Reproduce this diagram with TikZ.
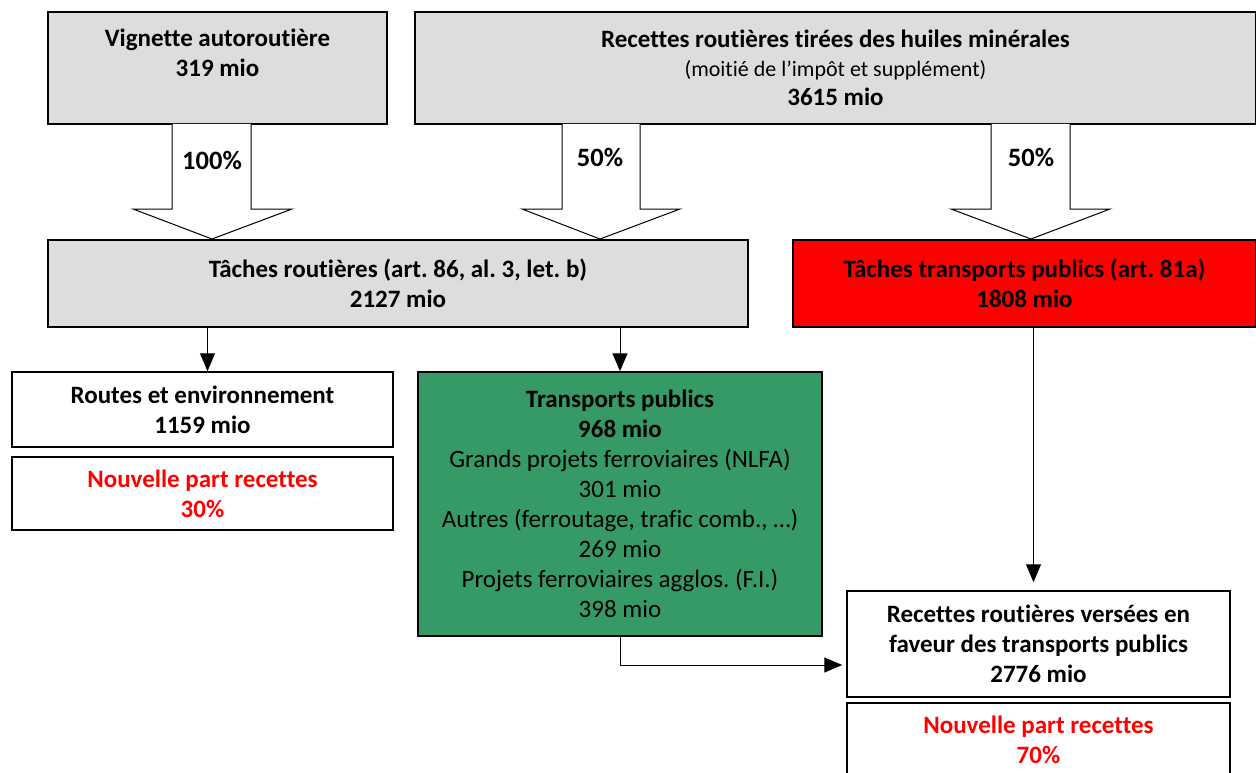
\documentclass[tikz,border=0pt]{standalone}
\usepackage{fontspec}
\setmainfont{Carlito}[Ligatures=NoCommon]
\usetikzlibrary{arrows.meta,calc}
\definecolor{boxgray}{HTML}{DDDDDD}
\definecolor{tpgreen}{HTML}{359A66}
\definecolor{tpred}{HTML}{FF0000}
\frenchspacing
\begin{document}
\begin{tikzpicture}[x=1pt,y=-1pt,
  box/.style={draw, line width=1.5pt, inner sep=0pt, align=center, text depth=0pt,
    font=\fontsize{25}{30}\selectfont\bfseries\frenchspacing},
  blockarrow/.style={draw, fill=white, line width=1pt},
  pct/.style={font=\fontsize{26.5}{30}\selectfont\bfseries},
  arr/.style={line width=1pt, -{Triangle[length=18pt,width=15pt]}}]
\useasboundingbox (0,0) rectangle (1256,773);

% top boxes
\node[box, fill=boxgray, minimum width=339pt, minimum height=112pt] (vig) at (217.5,68)
  {Vignette autoroutière\\319 mio\\\mbox{}};
\node[box, fill=boxgray, minimum width=841pt, minimum height=112pt] (huil) at (835.5,68)
  {Recettes routières tirées des huiles minérales\\[-1pt]
   {\fontsize{22}{28}\selectfont\mdseries (moitié de l{\char"0027}impôt et supplément)}\\[-1pt]
   3615 mio};

% second row
\node[box, fill=boxgray, minimum width=700pt, minimum height=87pt] (trout) at (398,283.5)
  {Tâches routières (art. 86, al. 3, let. b)\\2127 mio};
\node[box, fill=tpred, minimum width=463pt, minimum height=87pt] (ttp) at (1024.5,283.5)
  {Tâches transports publics (art. 81a)\\1808 mio};

% block arrows
\draw[blockarrow] (172,124) -- (172,209) -- (133,209) -- (212,239) -- (292,209) -- (251,209) -- (251,124);
\node[pct] (p1) at (212,160) {100\%};
\draw[blockarrow] (562,124) -- (562,209) -- (522,209) -- (600,239) -- (680,209) -- (640,209) -- (640,124);
\node[pct] (p2) at (600,157) {50\%};
\draw[blockarrow] (991,124) -- (991,209) -- (951,209) -- (1031,239) -- (1110,209) -- (1070,209) -- (1070,124);
\node[pct] (p3) at (1031,157) {50\%};

% third row
\node[box, minimum width=381pt, minimum height=75pt] (routes) at (202.5,409.5)
  {Routes et environnement\\1159 mio};
\node[box, minimum width=381pt, minimum height=73pt, text=tpred] (np1) at (202.5,493.5)
  {Nouvelle part recettes\\30\%};
\node[box, fill=tpgreen, minimum width=404pt, minimum height=264pt] (tp) at (620,504)
  {Transports publics\\968 mio\\
   \mdseries Grands projets ferroviaires (NLFA)\\\mdseries 301 mio\\
   \mdseries Autres (ferroutage, trafic comb., \ldots)\\\mdseries 269 mio\\
   \mdseries Projets ferroviaires agglos. (F.I.)\\\mdseries 398 mio};

% bottom right
\node[box, minimum width=383pt, minimum height=106pt] (vers) at (1038.5,644)
  {Recettes routières versées en\\faveur des transports publics\\2776 mio};
\node[box, minimum width=383pt, minimum height=74pt, text=tpred] (np2) at (1038.5,740)
  {Nouvelle part recettes\\70\%};

% connectors
\draw[arr] ([xshift=5pt]trout.south -| routes.north) -- ([xshift=5pt]routes.north);
\draw[arr] (trout.south -| tp.north) -- (tp.north);
\draw[arr, shorten >=8pt] ([xshift=-5pt]ttp.south -| vers.north) -- ([xshift=-5pt]vers.north);
\draw[arr, shorten >=4pt] (tp.south) |- ([yshift=-21pt]vers.west);
\end{tikzpicture}
\end{document}
